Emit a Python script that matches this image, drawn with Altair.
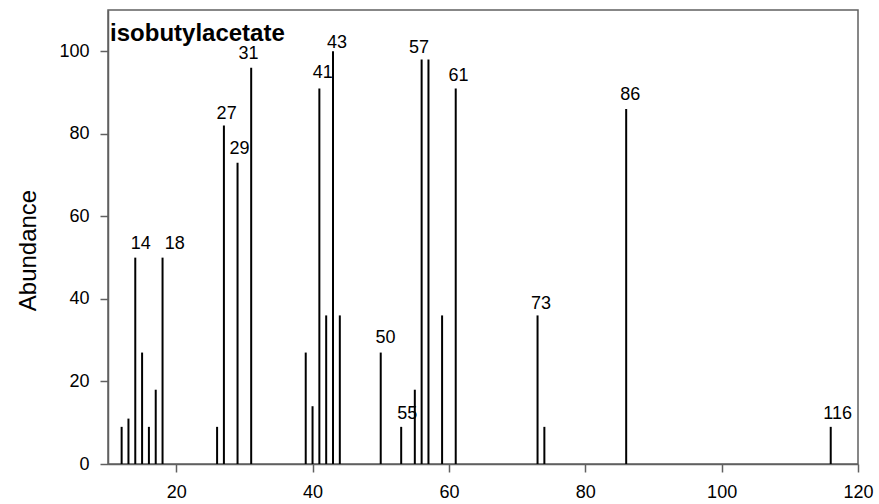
import altair as alt
import pandas as pd

# Mass spectrum of isobutyl acetate
mz = [12, 13, 14, 15, 16, 17, 18, 26, 27, 29, 31, 39, 40, 41, 42, 43, 44,
      50, 53, 55, 56, 57, 59, 61, 73, 74, 86, 116]
abundance = [9, 11, 50, 27, 9, 18, 50, 9, 82, 73, 96, 27, 14, 91, 36, 100, 36,
             27, 9, 18, 98, 98, 36, 91, 36, 9, 86, 9]

label_text = ["14", "18", "27", "29", "31", "41", "43", "50", "55", "57", "61",
              "73", "86", "116"]
label_x = [14.8, 19.8, 27.4, 29.3, 30.6, 41.5, 43.6, 50.7, 53.9, 55.6, 61.4,
           73.5, 86.6, 117.0]
label_y = [52.2, 52.2, 83.7, 75.2, 98.2, 93.6, 100.7, 29.3, 10.8, 99.5, 92.8,
           37.5, 88.3, 10.9]

x_ticks = [20, 40, 60, 80, 100, 120]
y_ticks = [0, 20, 40, 60, 80, 100]

title_text = "isobutylacetate"

FONT = "Liberation Sans"
GRAY = "#606060"

bars = pd.DataFrame({"mz": mz, "ab": abundance, "zero": [0] * len(mz)})
labels = pd.DataFrame({"x": label_x, "y": label_y, "t": label_text})
title_df = pd.DataFrame({"x": [10.3], "y": [102.4], "t": [title_text]})

xscale = alt.Scale(domain=[10, 120], nice=False, zero=False)
yscale = alt.Scale(domain=[0, 110], nice=False)

xaxis = alt.Axis(values=x_ticks, title=None, grid=False, tickSize=8,
                 labelPadding=11, labelFontSize=18, labelFont=FONT,
                 labelColor="black", domainColor=GRAY, tickColor=GRAY,
                 labelFlush=False, domainWidth=1.5, tickWidth=1.5)
yaxis = alt.Axis(values=y_ticks, title="Abundance", grid=False, tickSize=8,
                 labelPadding=11, labelFontSize=18, labelFont=FONT,
                 labelColor="black", domainColor=GRAY, tickColor=GRAY,
                 labelFlush=False, titleFont=FONT, titleFontSize=24,
                 titleFontWeight="normal", titleColor="black", titlePadding=18,
                 titleY=240, domainWidth=1.5, tickWidth=1.5)

rules = alt.Chart(bars).mark_rule(color="black", strokeWidth=2).encode(
    x=alt.X("mz:Q", scale=xscale, axis=xaxis),
    y=alt.Y("zero:Q", scale=yscale, axis=yaxis),
    y2="ab:Q",
)

text = alt.Chart(labels).mark_text(
    font=FONT, fontSize=18, color="black", align="center", baseline="alphabetic"
).encode(
    x=alt.X("x:Q", scale=xscale),
    y=alt.Y("y:Q", scale=yscale),
    text="t:N",
)

title = alt.Chart(title_df).mark_text(
    font=FONT, fontSize=24, fontWeight="bold", color="black",
    align="left", baseline="alphabetic"
).encode(
    x=alt.X("x:Q", scale=xscale),
    y=alt.Y("y:Q", scale=yscale),
    text="t:N",
)

chart = alt.layer(rules, text, title).properties(
    width=750, height=454,
    autosize=alt.AutoSizeParams(type="none"),
    padding={"left": 108, "top": 10, "right": 21, "bottom": 40},
    background="white",
).configure_view(stroke=GRAY, strokeWidth=1.5)

chart.save("out.html", embed_options={"renderer": "svg", "actions": False})
